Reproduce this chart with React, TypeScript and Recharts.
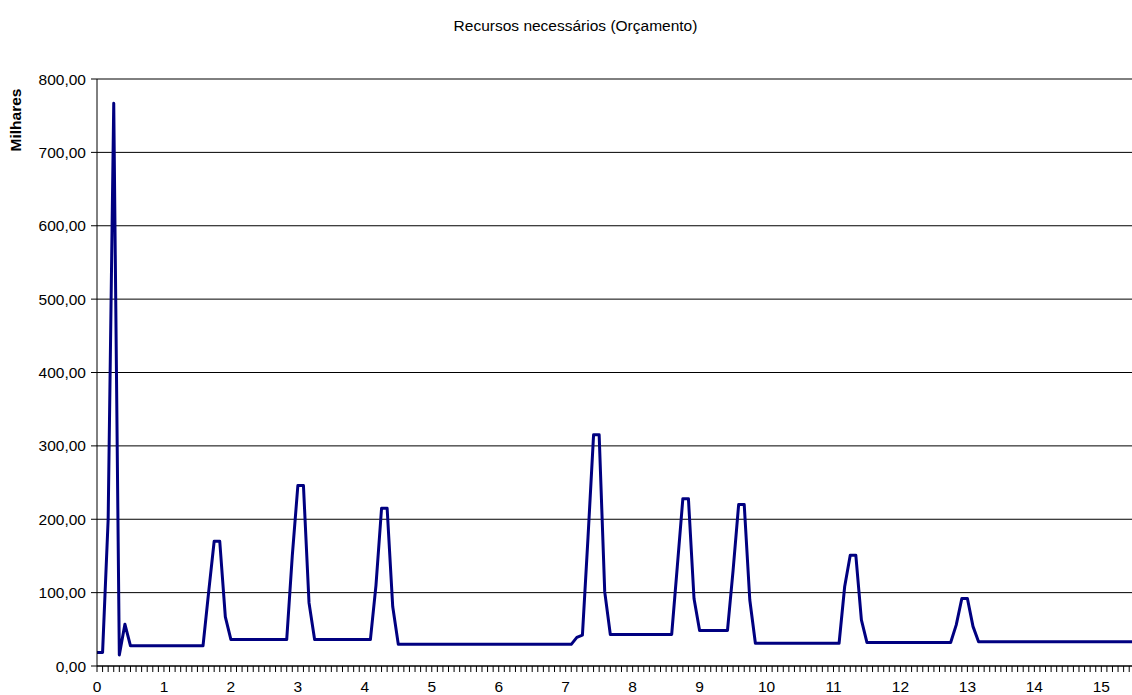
import React from "react";
import { LineChart, Line, XAxis, YAxis, CartesianGrid } from "recharts";

// Month index (x axis unit = years, 12 months per year) and value (thousands)
const months: number[] = [
  0, 1, 2, 3, 4, 5, 6, 19, 20, 21, 22, 23, 24, 34, 35, 36, 37, 38, 39, 49, 50, 51, 52, 53, 54,
  85, 86, 87, 88, 89, 90, 91, 92, 103, 104, 105, 106, 107, 108, 113, 114, 115, 116, 117, 118,
  133, 134, 135, 136, 137, 138, 153, 154, 155, 156, 157, 158, 186,
];
const values: number[] = [
  18.5, 18.5, 200, 767, 15, 57, 27.5, 27.5, 100, 170, 170, 67, 36, 36, 150, 246, 246, 86, 36, 36,
  110, 215, 215, 81, 29.5, 29.5, 39, 42, 175, 315, 315, 101, 43, 43, 135, 228, 228, 92, 48.5,
  48.5, 130, 220, 220, 90, 31, 31, 108, 151, 151, 63, 32, 32, 56, 92, 92, 54, 33, 33,
];

const yTicks: number[] = [0, 100, 200, 300, 400, 500, 600, 700, 800];
const xMajorLabels: string[] = ["0", "1", "2", "3", "4", "5", "6", "7", "8", "9", "10", "11", "12", "13", "14", "15"];
const monthsPerYear = 12;
const lastMonth = 185.5;

const title = "Recursos necessários (Orçamento)";
const yTitle = "Milhares";

const data = months.map((m, i) => ({ m, v: values[i] }));
const xTicks = Array.from({ length: Math.floor(lastMonth) + 1 }, (_, i) => i);

const font = '"Liberation Sans", Arial, sans-serif';
const fs = 15.5;

export default function App() {
  return (
    <div style={{ position: "absolute", left: 0, top: 0, width: 1132, height: 695, overflow: "hidden", background: "#fff", fontFamily: font }}>
      <div style={{ position: "absolute", left: 0, top: 17, width: 1151, textAlign: "center", fontSize: fs, color: "#000" }}>
        {title}
      </div>
      <div
        style={{
          position: "absolute",
          left: 16,
          top: 120,
          transform: "translate(-50%, -50%) rotate(-90deg)",
          fontSize: fs,
          fontWeight: "bold",
          color: "#000",
          whiteSpace: "nowrap",
        }}
      >
        {yTitle}
      </div>
      <div style={{ position: "absolute", left: 0, top: 0 }}>
        <LineChart width={1132} height={695} data={data} margin={{ top: 79, right: 0, bottom: 0, left: 0 }}>
          <CartesianGrid vertical={false} horizontal={true} stroke="#000" strokeWidth={1} />
          <XAxis
            dataKey="m"
            type="number"
            domain={[0, lastMonth]}
            ticks={xTicks}
            interval={0}
            allowDataOverflow
            height={29}
            tickSize={6}
            tickMargin={9}
            stroke="#000"
            tick={{ fill: "#000", fontSize: fs, fontFamily: font }}
            tickLine={{ stroke: "#000" }}
            axisLine={{ stroke: "#000" }}
            tickFormatter={(m: number) => (m % monthsPerYear === 0 ? xMajorLabels[m / monthsPerYear] ?? "" : "")}
          />
          <YAxis
            type="number"
            domain={[0, 800]}
            ticks={yTicks}
            interval={0}
            width={97}
            tickSize={6}
            tickMargin={5}
            stroke="#000"
            tick={{ fill: "#000", fontSize: fs, fontFamily: font }}
            tickLine={{ stroke: "#000" }}
            axisLine={{ stroke: "#000" }}
            tickFormatter={(v: number) => v.toFixed(2).replace(".", ",")}
          />
          <Line
            type="linear"
            dataKey="v"
            stroke="#000080"
            strokeWidth={3}
            strokeLinejoin="round"
            dot={false}
            activeDot={false}
            isAnimationActive={false}
          />
        </LineChart>
      </div>
    </div>
  );
}
